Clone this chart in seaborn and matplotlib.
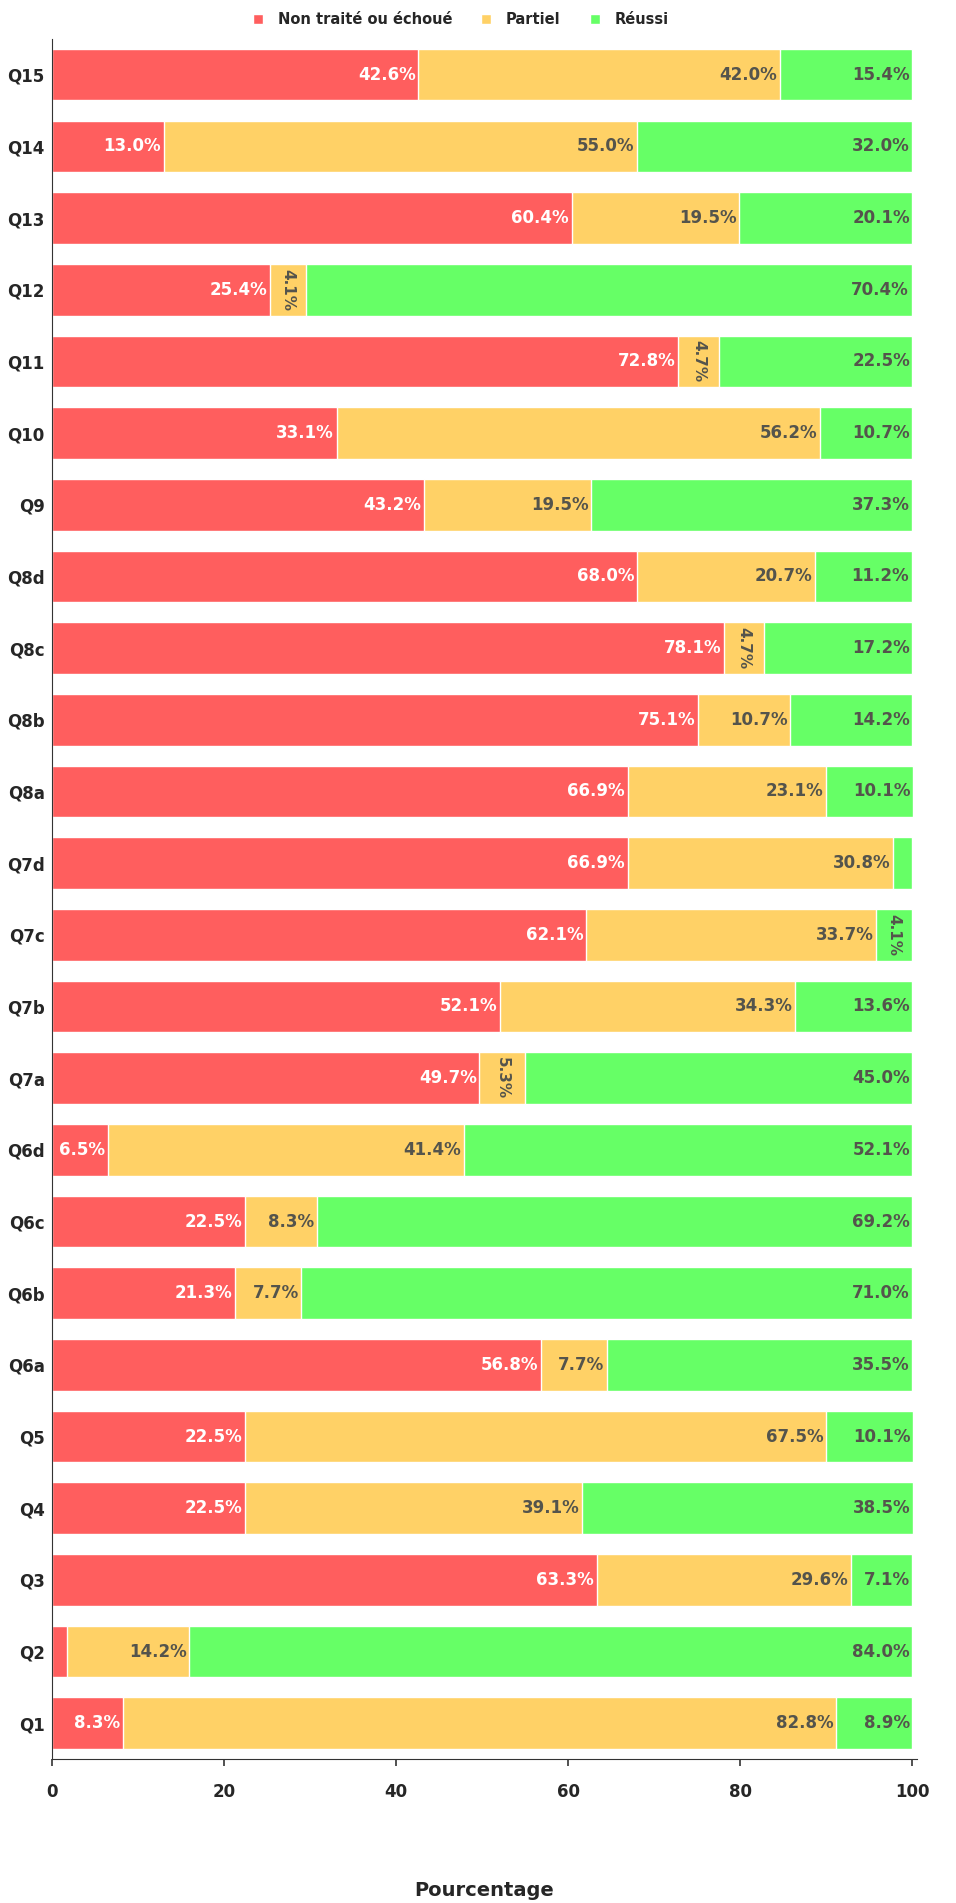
import numpy as np
import pandas as pd
import matplotlib.pyplot as plt
import seaborn as sns

# data (top row first)
questions = ['Q15', 'Q14', 'Q13', 'Q12', 'Q11', 'Q10', 'Q9', 'Q8d', 'Q8c', 'Q8b', 'Q8a', 'Q7d',
             'Q7c', 'Q7b', 'Q7a', 'Q6d', 'Q6c', 'Q6b', 'Q6a', 'Q5', 'Q4', 'Q3', 'Q2', 'Q1']
non_traite = [42.6, 13.0, 60.4, 25.4, 72.8, 33.1, 43.2, 68.0, 78.1, 75.1, 66.9, 66.9,
              62.1, 52.1, 49.7, 6.5, 22.5, 21.3, 56.8, 22.5, 22.5, 63.3, 1.8, 8.3]
partiel = [42.0, 55.0, 19.5, 4.1, 4.7, 56.2, 19.5, 20.7, 4.7, 10.7, 23.1, 30.8,
           33.7, 34.3, 5.3, 41.4, 8.3, 7.7, 7.7, 67.5, 39.1, 29.6, 14.2, 82.8]
reussi = [15.4, 32.0, 20.1, 70.4, 22.5, 10.7, 37.3, 11.2, 17.2, 14.2, 10.1, 2.3,
          4.1, 13.6, 45.0, 52.1, 69.2, 71.0, 35.5, 10.1, 38.5, 7.1, 84.0, 8.9]
series = ['Non traité ou échoué', 'Partiel', 'Réussi']
colors = ['#FF5E5E', '#FFD166', '#66FF66']
text_colors = ['white', '#54544c', '#54544c']

df = pd.DataFrame({'Question': questions, series[0]: non_traite,
                   series[1]: partiel, series[2]: reussi})
vals = df[series].to_numpy()
cum = vals.cumsum(axis=1)

sns.set_style("white")
plt.rcParams['font.family'] = ['DejaVu Sans']

fig = plt.figure(figsize=(9.56, 19.03), dpi=100)
ax = fig.add_axes([0.054, 0.0756, 0.905, 0.904])

# stacked bars: draw the cumulative totals from the longest to the shortest
for i in [2, 1, 0]:
    sns.barplot(x=cum[:, i], y=df['Question'], order=questions, color=colors[i],
                width=0.72, ax=ax, label=series[i], orient='h', saturation=1)

for row in range(len(questions)):
    for i in range(3):
        v = vals[row, i]
        right = cum[row, i]
        if v < 2.5:
            continue
        if v < 6:
            ax.text(right - v / 2, row, f'{v:.1f}%', rotation=270, ha='center', va='center',
                    color=text_colors[i], fontsize=11, fontweight='bold')
        else:
            ax.text(right - 0.3, row, f'{v:.1f}%', ha='right', va='center',
                    color=text_colors[i], fontsize=12, fontweight='bold')

ax.set_xlim(0, 100.5)
ax.set_ylim(len(questions) - 0.5, -0.5)
ax.set_xticks([0, 20, 40, 60, 80, 100])
ax.set_xlabel('Pourcentage', fontsize=14, fontweight='bold', labelpad=58)
ax.set_ylabel('')
for lab in ax.get_xticklabels() + ax.get_yticklabels():
    lab.set_fontweight('bold')
    lab.set_fontsize(12)
ax.tick_params(axis='x', length=5, width=1.2, color='#333333', bottom=True, pad=12)
ax.tick_params(axis='y', length=0, pad=5)
sns.despine(ax=ax)
for s in ['left', 'bottom']:
    ax.spines[s].set_color('#333333')

handles, labels = ax.get_legend_handles_labels()
order = [labels.index(s) for s in series]
fig.legend([handles[k] for k in order], series, loc='center', bbox_to_anchor=(0.482, 0.9895),
           ncol=3, frameon=False, handlelength=0.7, handleheight=0.7, columnspacing=2.0,
           handletextpad=1.0, prop={'weight': 'bold', 'size': 10.5})
if ax.get_legend():
    ax.get_legend().remove()

fig.savefig('out.png', dpi=100, facecolor='white')
